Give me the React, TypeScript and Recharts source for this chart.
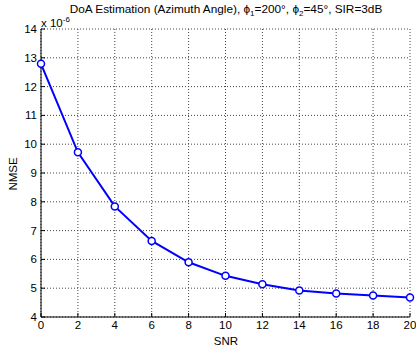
import React from 'react';
import { LineChart, Line, XAxis, YAxis, CartesianGrid } from 'recharts';

const snr = [0, 2, 4, 6, 8, 10, 12, 14, 16, 18, 20];
const nmse = [12.79, 9.72, 7.84, 6.64, 5.9, 5.43, 5.14, 4.92, 4.82, 4.75, 4.68];
const xTicks = [0, 2, 4, 6, 8, 10, 12, 14, 16, 18, 20];
const yTicks = [4, 5, 6, 7, 8, 9, 10, 11, 12, 13, 14];

const data = snr.map((s, i) => ({ snr: s, nmse: nmse[i] }));

const FONT = '"Liberation Sans", Arial, sans-serif';

const App: React.FC = () => {
    return (
        <div style={{ position: 'absolute', left: 0, top: 0, width: 416, height: 351, background: '#fff', fontFamily: FONT }}>
            <LineChart width={416} height={351} data={data} margin={{ top: 29, right: 6, bottom: 14, left: 11 }}>
                <CartesianGrid stroke="#444" strokeDasharray="1 2" />
                <XAxis
                    dataKey="snr"
                    type="number"
                    domain={[0, 20]}
                    ticks={xTicks}
                    height={20}
                    tickSize={-4}
                    tickMargin={8}
                    stroke="#000"
                    tick={{ fill: '#000', fontSize: 11.5, fontFamily: FONT }}
                />
                <XAxis xAxisId="top" orientation="top" type="number" domain={[0, 20]} ticks={xTicks} height={0} tickSize={-4} tick={false} stroke="#000" />
                <YAxis
                    type="number"
                    domain={[4, 14]}
                    ticks={yTicks}
                    width={30}
                    tickSize={-4}
                    tickMargin={8}
                    stroke="#000"
                    tick={{ fill: '#000', fontSize: 11.5, fontFamily: FONT }}
                />
                <YAxis yAxisId="right" orientation="right" type="number" domain={[4, 14]} ticks={yTicks} width={0} tickSize={-4} tick={false} stroke="#000" />
                <Line
                    dataKey="nmse"
                    type="linear"
                    stroke="#0000ff"
                    strokeWidth={2}
                    dot={{ r: 3.5, stroke: '#0000ff', strokeWidth: 1.5, fill: '#fff' }}
                    isAnimationActive={false}
                />
            </LineChart>
            <div style={{ position: 'absolute', left: 226, top: 1, transform: 'translateX(-50%)', whiteSpace: 'nowrap', fontSize: 11.8, lineHeight: '16px' }}>
                DoA Estimation (Azimuth Angle), ϕ<sub style={{ fontSize: 8 }}>1</sub>=200°, ϕ<sub style={{ fontSize: 8 }}>2</sub>=45°, SIR=3dB
            </div>
            <div style={{ position: 'absolute', left: 41, top: 13, fontSize: 11.5, lineHeight: '14px', whiteSpace: 'nowrap' }}>
                x 10<sup style={{ fontSize: 8 }}>-6</sup>
            </div>
            <div style={{ position: 'absolute', left: 226, top: 335, transform: 'translateX(-50%)', fontSize: 11.5 }}>
                SNR
            </div>
            <div style={{ position: 'absolute', left: 13, top: 174, fontSize: 11.5, transform: 'translate(-50%, -50%) rotate(-90deg)' }}>
                NMSE
            </div>
        </div>
    );
};

export default App;
